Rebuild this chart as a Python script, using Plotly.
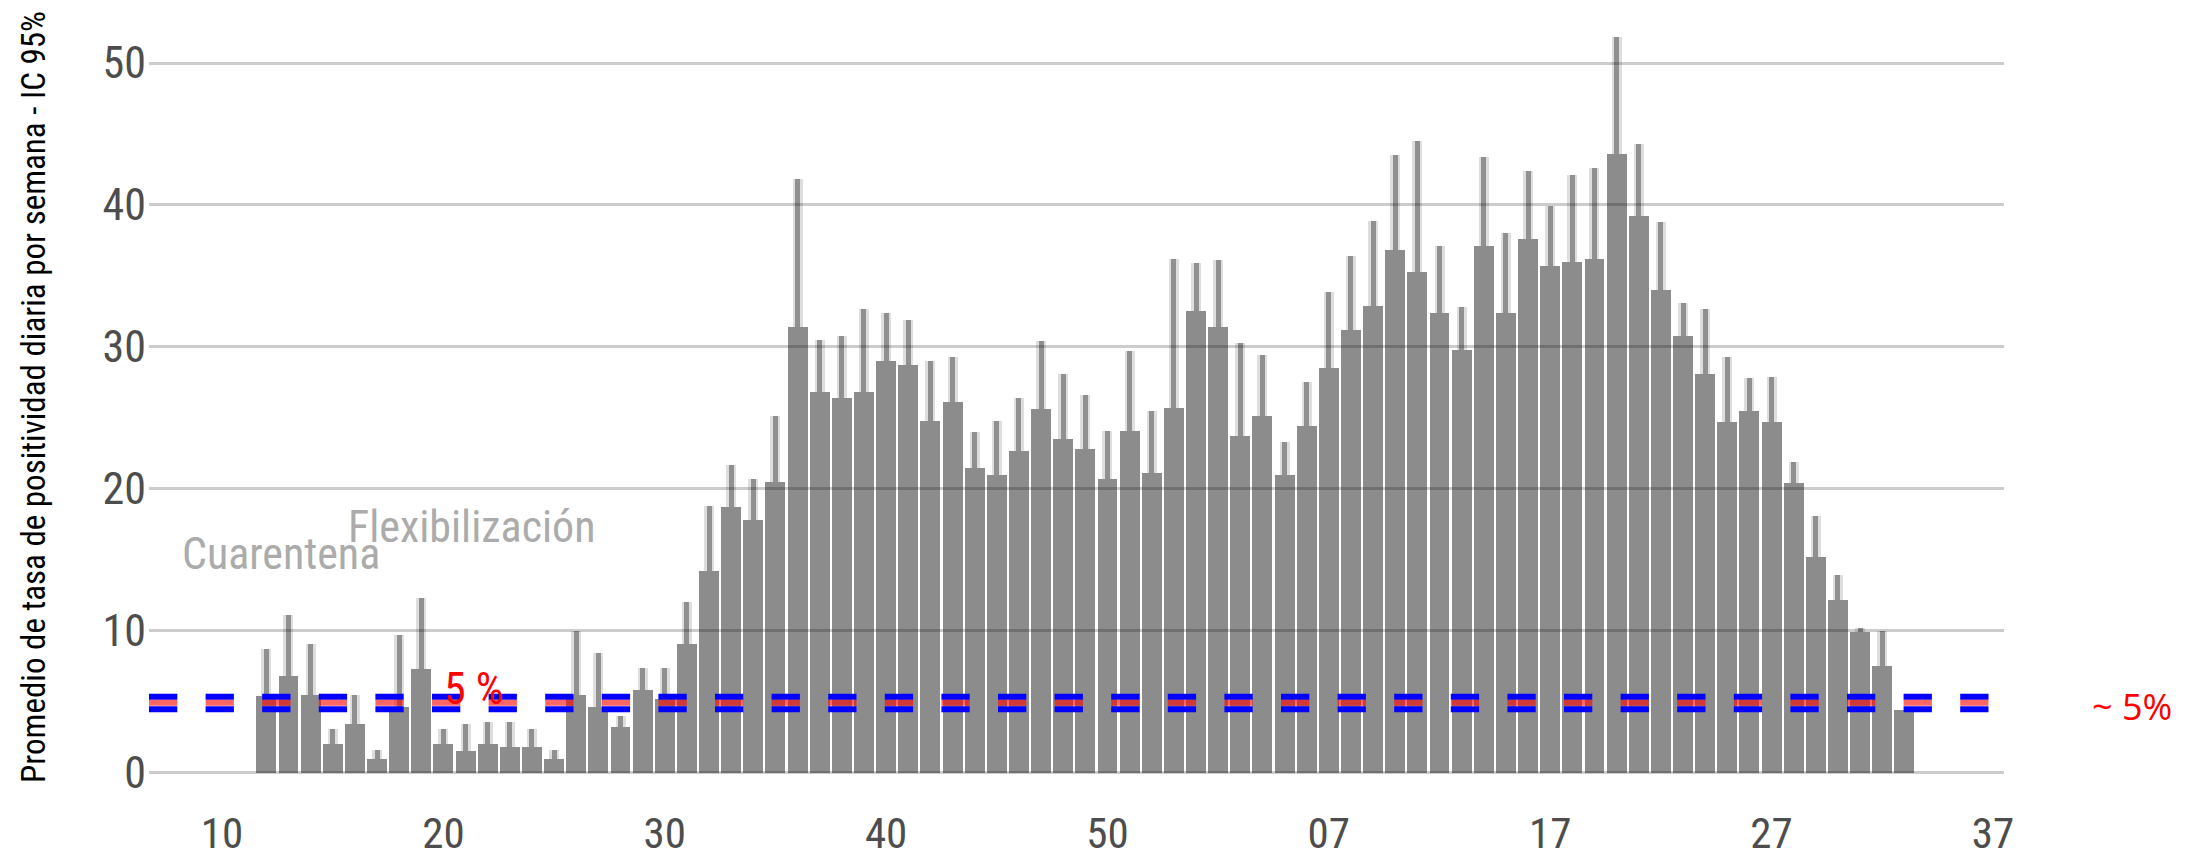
import plotly.graph_objects as go

# ---------------- data ----------------
semanas_2020 = list(range(12, 54))
semanas_2021 = list(range(1, 34))

media_2020 = [5.4, 6.8, 5.5, 2.0, 3.4, 1.0, 4.6, 7.3, 2.0, 1.5, 2.0, 1.8, 1.8, 1.0,
              5.5, 4.6, 3.2, 5.8, 5.2, 9.1, 14.2, 18.7, 17.8, 20.5, 31.4, 26.8, 26.4,
              26.8, 29.0, 28.7, 24.8, 26.1, 21.5, 21.0, 22.7, 25.6, 23.5, 22.8, 20.7,
              24.1, 21.1, 25.7]
ic_sup_2020 = [8.7, 11.1, 9.1, 3.1, 5.5, 1.6, 9.7, 12.3, 3.1, 3.4, 3.6, 3.6, 3.1, 1.6,
               10.0, 8.4, 4.0, 7.4, 7.4, 12.0, 18.8, 21.7, 20.7, 25.1, 41.8, 30.5, 30.8,
               32.7, 32.4, 31.9, 29.0, 29.3, 24.0, 24.8, 26.4, 30.4, 28.1, 26.6, 24.1,
               29.7, 25.5, 36.2]
media_2021 = [32.5, 31.4, 23.7, 25.1, 21.0, 24.4, 28.5, 31.2, 32.9, 36.8, 35.3, 32.4,
              29.8, 37.1, 32.4, 37.6, 35.7, 36.0, 36.2, 43.6, 39.2, 34.0, 30.8, 28.1,
              24.7, 25.5, 24.7, 20.4, 15.2, 12.2, 9.9, 7.5, 4.4]
ic_sup_2021 = [35.9, 36.1, 30.3, 29.4, 23.3, 27.5, 33.9, 36.4, 38.9, 43.5, 44.5, 37.1,
               32.8, 43.4, 38.0, 42.4, 39.9, 42.1, 42.6, 51.8, 44.3, 38.8, 33.1, 32.7,
               29.3, 27.8, 27.9, 21.9, 18.1, 13.9, 10.2, 10.0, 4.4]

semanas_por_anio_2020 = 53
tick_semanas = [10, 20, 30, 40, 50, 60, 70, 80, 90]
tick_textos = ["10", "20", "30", "40", "50", "07", "17", "27", "37"]
y_ticks = [0, 10, 20, 30, 40, 50]

umbral = 5
etiqueta_umbral = "5 %"
etiqueta_derecha = "~ 5%"
titulo_y = "Promedio de tasa de positividad diaria por semana - IC 95%"

# ---------------- build ----------------
x_idx = semanas_2020 + [semanas_por_anio_2020 + w for w in semanas_2021]
media = media_2020 + media_2021
ic_sup = ic_sup_2020 + ic_sup_2021
err_plus = [max(u - m, 0) for u, m in zip(ic_sup, media)]
zeros = [0] * len(media)

NARROW = "Liberation Sans Narrow, Arial Narrow, Roboto Condensed, Liberation Sans, sans-serif"

fig = go.Figure()
# halo of error bars
fig.add_trace(go.Bar(
    x=x_idx, y=media, width=0.9,
    marker=dict(color="rgba(0,0,0,0)", line=dict(width=0)),
    error_y=dict(type="data", symmetric=False, array=err_plus, arrayminus=zeros,
                 width=0, thickness=10, color="rgba(0,0,0,0.13)"),
    hoverinfo="skip", showlegend=False))
# bars
fig.add_trace(go.Bar(
    x=x_idx, y=media, width=0.9,
    marker=dict(color="rgba(0,0,0,0.45)", line=dict(width=0)),
    error_y=dict(type="data", symmetric=False, array=err_plus, arrayminus=zeros,
                 width=0, thickness=5, color="rgba(0,0,0,0.35)"),
    showlegend=False))

# threshold lines (blue pair + red middle)
dash = "28.3px,28.3px"
for yy, col, w in [(umbral + 0.35, "rgb(0,0,255)", 6),
                   (umbral - 0.53, "rgb(0,0,255)", 6),
                   (umbral - 0.07, "rgba(255,0,0,0.6)", 6)]:
    fig.add_shape(type="line", xref="paper", yref="y", x0=0, x1=1, y0=yy, y1=yy,
                  line=dict(color=col, width=w, dash=dash), layer="above")

fig.add_annotation(x=12.66, y=15.4, text="Cuarentena", showarrow=False,
                   font=dict(family=NARROW, size=44, color="#ababab"),
                   xanchor="center", yanchor="middle")
fig.add_annotation(x=21.3, y=17.3, text="Flexibilización", showarrow=False,
                   font=dict(family=NARROW, size=44, color="#ababab"),
                   xanchor="center", yanchor="middle")
fig.add_annotation(x=21.4, y=5.9, text=etiqueta_umbral, showarrow=False,
                   font=dict(family=NARROW, size=44, color="#ff0000"),
                   xanchor="center", yanchor="middle")
fig.add_annotation(xref="paper", x=1.0, xshift=128, y=4.7, text=etiqueta_derecha,
                   showarrow=False, font=dict(family="Open Sans, sans-serif", size=36, color="#ff0000"),
                   xanchor="center", yanchor="middle")

fig.update_layout(
    width=2205, height=859,
    margin=dict(l=149, r=201, t=0, b=65, autoexpand=False),
    paper_bgcolor="white", plot_bgcolor="white",
    barmode="overlay", bargap=0,
    showlegend=False,
    xaxis=dict(range=[6.7, 90.5], tickvals=tick_semanas, ticktext=tick_textos,
               showgrid=False, zeroline=False, showline=False, automargin=False,
               ticks="outside", ticklen=1, tickcolor="rgba(0,0,0,0)",
               tickfont=dict(family=NARROW, size=43, color="#4d4d4d")),
    yaxis=dict(range=[-1.5, 54.44], tickvals=y_ticks, automargin=False,
               showgrid=True, gridcolor="#cccccc", gridwidth=3,
               zeroline=False, showline=False, ticks="",
               ticklabelstandoff=2,
               tickfont=dict(family=NARROW, size=44, color="#4d4d4d"),
               title=dict(text=titulo_y, standoff=46,
                          font=dict(family=NARROW, size=33, color="#000000"))),
)

fig.write_html("out.html", config={"displayModeBar": False},
               post_script="document.body.style.margin='0';document.body.style.overflow='hidden';")
